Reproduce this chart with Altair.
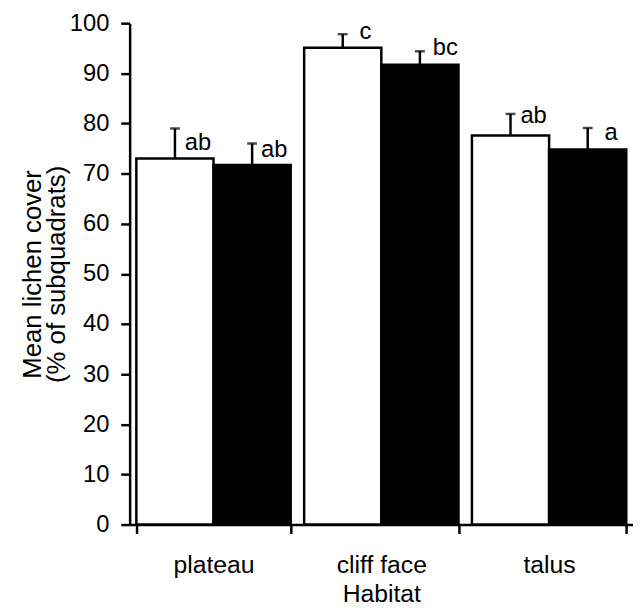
import altair as alt
import pandas as pd

habitats = ["plateau", "cliff face", "talus"]
series = ["Group 1", "Group 2"]
means_1 = [73.0, 95.1, 77.6]
means_2 = [71.7, 91.7, 74.8]
upper_1 = [79.0, 97.8, 81.9]
upper_2 = [76.0, 94.4, 79.1]
letters_1 = ["ab", "c", "ab"]
letters_2 = ["ab", "bc", "a"]
label_y_1 = [74.8, 96.9, 80.0]
label_y_2 = [73.4, 93.7, 76.8]
label_dx_1 = [10, 17, 10]
label_dx_2 = [9, 13, 17]

rows = []
for i, h in enumerate(habitats):
    rows.append(dict(habitat=h, grp=series[0], mean=means_1[i], upper=upper_1[i],
                     letter=letters_1[i], ly=label_y_1[i], ldx=label_dx_1[i]))
    rows.append(dict(habitat=h, grp=series[1], mean=means_2[i], upper=upper_2[i],
                     letter=letters_2[i], ly=label_y_2[i], ldx=label_dx_2[i]))
df = pd.DataFrame(rows)

FONT = "Liberation Sans"

x_enc = alt.X(
    "habitat:N", sort=habitats,
    scale=alt.Scale(paddingInner=0.08, paddingOuter=0.04),
    axis=alt.Axis(
        title="Habitat", labelAngle=0, tickBand="extent", tickSize=9, tickWidth=2.5,
        tickColor="black", domainColor="black", domainWidth=2.5,
        labelFont=FONT, labelFontSize=25, labelColor="black", labelPadding=19,
        titleFont=FONT, titleFontSize=25, titleFontWeight="normal", titleColor="black",
        titlePadding=5,
    ),
)
xoff = alt.XOffset("grp:N", sort=series, scale=alt.Scale(paddingInner=0, paddingOuter=0))
y_scale = alt.Scale(domain=[0, 100], nice=False)

base = alt.Chart(df)

bars = base.mark_bar(stroke="black", strokeWidth=2.5).encode(
    x=x_enc,
    xOffset=xoff,
    y=alt.Y(
        "mean:Q", scale=y_scale,
        axis=alt.Axis(
            values=list(range(0, 101, 10)), grid=False,
            title=["Mean lichen cover", "(% of subquadrats)"],
            tickSize=9, tickWidth=2.5, tickColor="black",
            domainColor="black", domainWidth=2.5,
            labelFont=FONT, labelFontSize=24, labelColor="black", labelPadding=12,
            titleFont=FONT, titleFontSize=26, titleFontWeight="normal", titleColor="black",
            titleLineHeight=24, titlePadding=0,
        ),
    ),
    fill=alt.Fill("grp:N", scale=alt.Scale(domain=series, range=["white", "black"]), legend=None),
)

rules = base.mark_rule(color="black", strokeWidth=2.5).encode(
    x=alt.X("habitat:N", sort=habitats), xOffset=xoff,
    y=alt.Y("mean:Q", scale=y_scale), y2="upper:Q",
)

caps = base.mark_tick(color="black", thickness=2.5, size=10, orient="horizontal").encode(
    x=alt.X("habitat:N", sort=habitats), xOffset=xoff,
    y=alt.Y("upper:Q", scale=y_scale),
)

label_layers = []
for d in sorted(set(label_dx_1 + label_dx_2)):
    label_layers.append(
        base.transform_filter(alt.datum.ldx == d)
        .mark_text(align="left", baseline="alphabetic", dx=d, font=FONT,
                   fontSize=24, color="black")
        .encode(
            x=alt.X("habitat:N", sort=habitats), xOffset=xoff,
            y=alt.Y("ly:Q", scale=y_scale),
            text="letter:N",
        )
    )

chart = (
    alt.layer(bars, rules, caps, *label_layers)
    .properties(width=509, height=507, autosize=alt.AutoSizeParams(type="none"),
                padding={"left": 123, "top": 12, "right": 0, "bottom": 81})
    .configure_view(stroke=None)
)

chart.save("out.html", embed_options={"renderer": "svg", "actions": False})
